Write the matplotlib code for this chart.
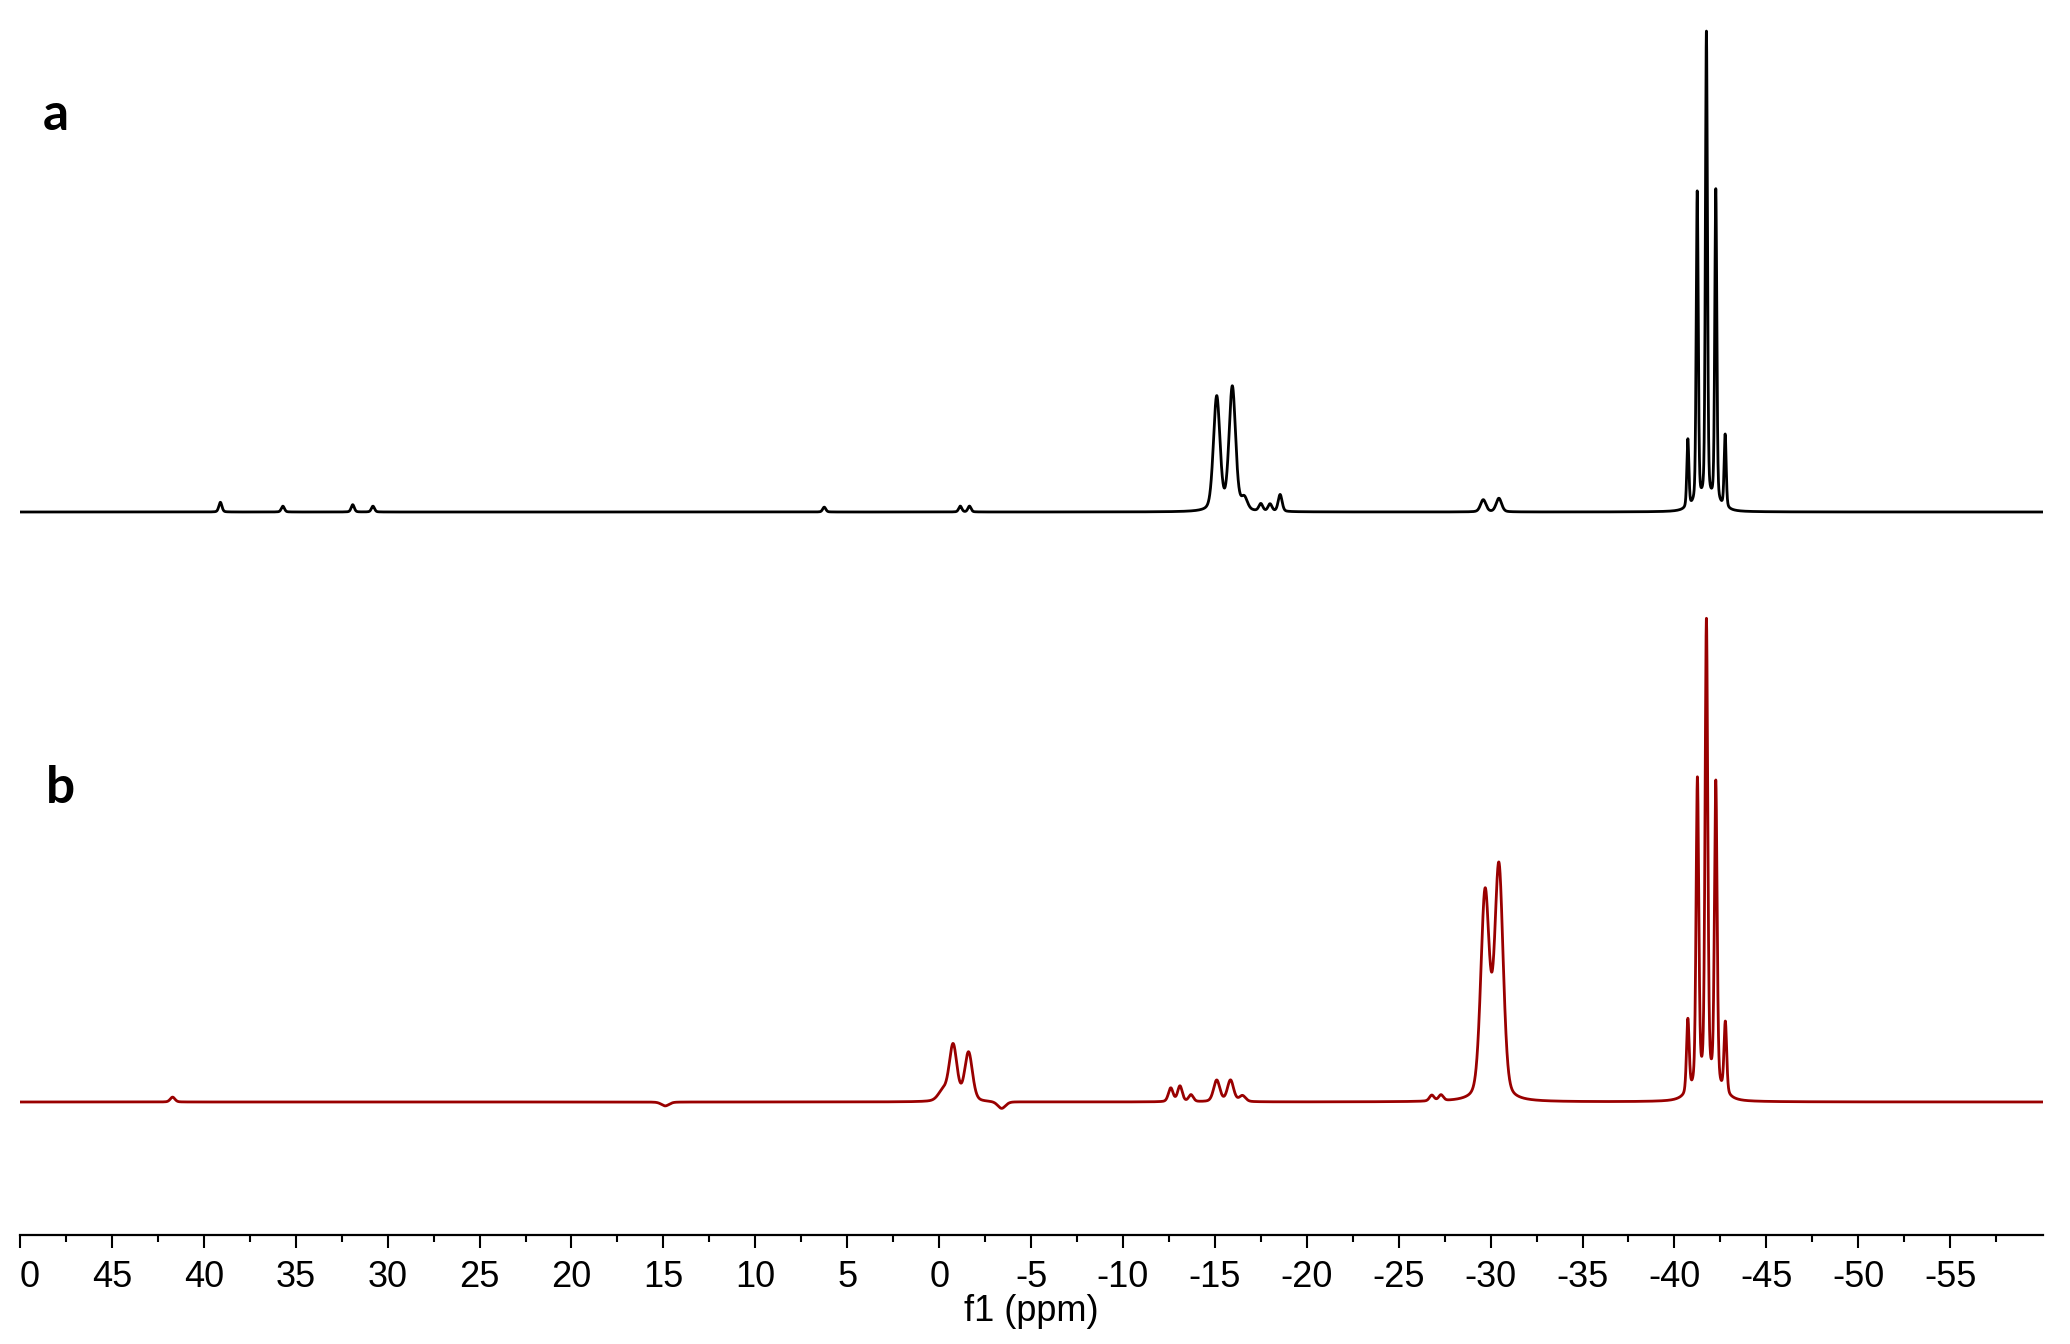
import numpy as np
import matplotlib.pyplot as plt

# peak lists: shift (ppm), height (fraction of tallest line), fwhm (ppm)
a_shift = [-15.1, -15.95, -16.6, -17.5, -18.0, -18.55, -29.6, -30.45,
           -40.73, -41.24, -41.74, -42.25, -42.76, -41.74,
           39.1, 35.7, 31.9, 30.8, 6.25, -1.15, -1.65]
a_height = [0.235, 0.255, 0.025, 0.015, 0.015, 0.035, 0.025, 0.028,
            0.14, 0.64, 0.963, 0.645, 0.15, 0.02,
            0.02, 0.012, 0.015, 0.012, 0.01, 0.012, 0.012]
a_width = [0.42, 0.42, 0.4, 0.25, 0.25, 0.25, 0.35, 0.35,
           0.13, 0.13, 0.13, 0.13, 0.13, 1.5,
           0.2, 0.2, 0.2, 0.2, 0.2, 0.2, 0.2]

b_shift = [-0.76, -1.6, -0.2, -12.6, -13.1, -13.7, -15.1, -15.85, -16.5,
           -3.4, 14.9, -26.8, -27.3, 41.7,
           -29.7, -30.45,
           -40.73, -41.25, -41.74, -42.25, -42.77, -41.74]
b_height = [0.115, 0.1, 0.02, 0.028, 0.032, 0.014, 0.044, 0.044, 0.012,
            -0.014, -0.008, 0.012, 0.012, 0.01,
            0.42, 0.475,
            0.15, 0.625, 0.94, 0.62, 0.145, 0.04]
b_width = [0.5, 0.5, 0.6, 0.3, 0.3, 0.3, 0.4, 0.4, 0.4,
           0.5, 0.5, 0.3, 0.3, 0.3,
           0.55, 0.55,
           0.17, 0.17, 0.17, 0.17, 0.17, 1.6]

major_ticks = list(range(50, -56, -5))
tick_labels = ["0"] + [str(t) for t in major_ticks[1:]]

ETA = 0.3  # lorentzian fraction of the line shape


def spectrum(ppm, shifts, heights, widths):
    y = np.zeros_like(ppm)
    for x0, h, w in zip(shifts, heights, widths):
        d = (ppm - x0) / w
        lor = 1.0 / (1.0 + 4 * d ** 2)
        gau = np.exp(-4 * np.log(2) * d ** 2)
        y += h * (ETA * lor + (1 - ETA) * gau)
    return y


ppm = np.linspace(50, -60.05, 22000)
spec_a = spectrum(ppm, a_shift, a_height, a_width)
spec_b = spectrum(ppm, b_shift, b_height, b_width)

fig = plt.figure(figsize=(20.7, 13.44), dpi=100)
ax = fig.add_axes([20 / 2070, 109 / 1344, 2023 / 2070, 1235 / 1344])

# y axis in pixel units, spectra stacked
ax.plot(ppm, 723 + 486 * spec_a, color="black", lw=2.0)
ax.plot(ppm, 133 + 488 * spec_b, color="#990000", lw=2.0)
ax.set_ylim(0, 1235)
ax.set_xlim(50, -60.05)

for s in ["top", "left", "right"]:
    ax.spines[s].set_visible(False)
ax.spines["bottom"].set_linewidth(1.6)
ax.set_yticks([])

tfont = ["Liberation Sans Narrow", "Liberation Sans"]
ax.set_xticks(major_ticks)
ax.set_xticklabels(tick_labels, family=tfont, fontsize=26)
ax.set_xticks(np.arange(47.5, -60, -5), minor=True)
ax.tick_params(axis="x", which="major", direction="out", length=9, width=1.5, pad=9)
ax.tick_params(axis="x", which="minor", direction="out", length=5, width=1.5)
ax.get_xticklabels()[0].set_horizontalalignment("left")
ax.set_xlabel("f1 (ppm)", family=tfont, fontsize=26, labelpad=-1)

fig.text(43 / 2070, 1 - 130 / 1344, "a", family="Lato", weight="bold", fontsize=37)
fig.text(46 / 2070, 1 - 803 / 1344, "b", family="Lato", weight="bold", fontsize=37)

fig.savefig("out.png", dpi=100)
